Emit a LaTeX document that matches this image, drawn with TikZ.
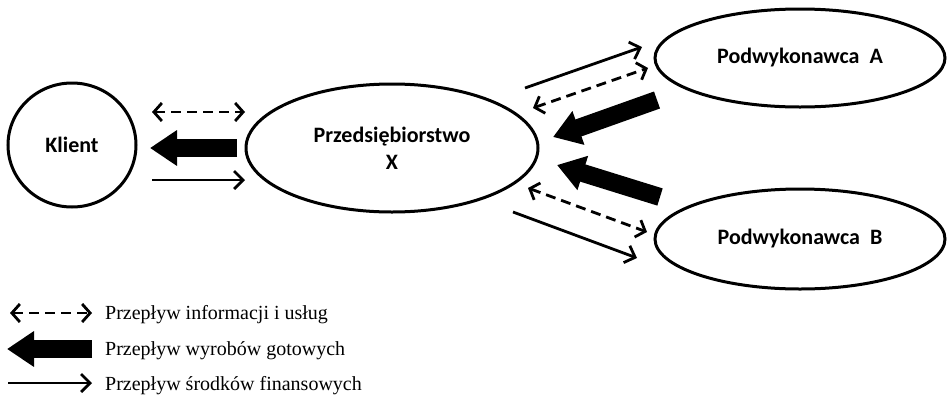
\documentclass[tikz,border=0pt]{standalone}
\usepackage{fontspec}
\setmainfont{Liberation Serif}
\newfontfamily\labfont{Carlito}
\usetikzlibrary{shapes.geometric,arrows.meta}
\tikzset{
  ent/.style={ellipse,draw,line width=3pt,inner sep=0pt,font=\labfont\bfseries\fontsize{22}{27}\selectfont,align=center},
  info/.style={line width=2.8pt,dash pattern=on 10pt off 6pt,{Straight Barb[length=8pt,width=18pt,line width=2.8pt]}-{Straight Barb[length=8pt,width=18pt,line width=2.8pt]}},
  goods/.style={line width=18pt,-{Triangle[length=27pt,width=34pt]}},
  money/.style={line width=2.8pt,-{Straight Barb[length=9pt,width=18pt,line width=2.8pt]}},
  legtext/.style={anchor=west,inner sep=0pt,font=\fontsize{20}{24}\selectfont}
}
\begin{document}
\begin{tikzpicture}[x=1pt,y=-1pt]
\useasboundingbox (0,0) rectangle (947,410);
\node[ent,minimum width=128pt,minimum height=124pt] (klient) at (72,145) {Klient};
\node[ent,minimum width=292pt,minimum height=128pt] (firma) at (392,148) {Przedsiębiorstwo\\X};
\node[ent,minimum width=290pt,minimum height=98pt] (podA) at (800,58) {Podwykonawca\ \ A};
\node[ent,minimum width=290pt,minimum height=100pt] (podB) at (800,239) {Podwykonawca\ \ B};
% left arrows
\coordinate (l1a) at (152,112); \coordinate (l1b) at (245,112);
\coordinate (l2a) at (237,148); \coordinate (l2b) at (150,148);
\coordinate (l3a) at (152,180); \coordinate (l3b) at (245,180);
\draw[info] (l1a) -- (l1b);
\draw[goods] (l2a) -- (l2b);
\draw[money] (l3a) -- (l3b);
% A arrows
\coordinate (a1a) at (525,88); \coordinate (a1b) at (642,47);
\coordinate (a2a) at (533,108); \coordinate (a2b) at (648,68);
\coordinate (a3a) at (657,100); \coordinate (a3b) at (553,137);
\draw[money] (a1a) -- (a1b);
\draw[info] (a2a) -- (a2b);
\draw[goods] (a3a) -- (a3b);
% B arrows
\coordinate (b1a) at (660,197); \coordinate (b1b) at (557,165);
\coordinate (b2a) at (528,188); \coordinate (b2b) at (647,232);
\coordinate (b3a) at (513,212); \coordinate (b3b) at (637,258);
\draw[goods] (b1a) -- (b1b);
\draw[info] (b2a) -- (b2b);
\draw[money] (b3a) -- (b3b);
% legend
\coordinate (g1a) at (10,313); \coordinate (g1b) at (92,313);
\coordinate (g2a) at (92,349); \coordinate (g2b) at (7,349);
\coordinate (g3a) at (8,383); \coordinate (g3b) at (92,383);
\draw[info] (g1a) -- (g1b);
\draw[goods] (g2a) -- (g2b);
\draw[money] (g3a) -- (g3b);
\node[legtext] (t1) at (105,315) {Przepływ informacji i usług};
\node[legtext] (t2) at (105,351) {Przepływ wyrobów gotowych};
\node[legtext] (t3) at (105,386) {Przepływ środków finansowych};
\end{tikzpicture}
\end{document}
